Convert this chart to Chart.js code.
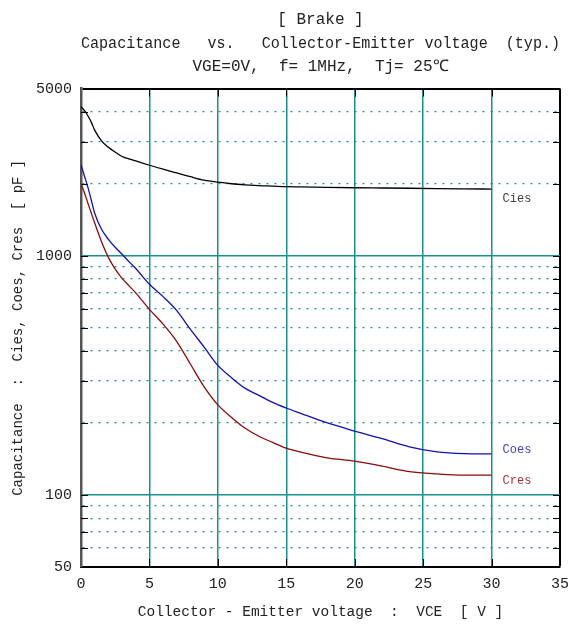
<!DOCTYPE html>
<html>
<head>
<meta charset="utf-8">
<script src="https://cdn.jsdelivr.net/npm/chart.js@4.4.1/dist/chart.umd.min.js"></script>
<style>
  html, body { margin: 0; padding: 0; background: #fff; }
</style>
</head>
<body>
<canvas id="chart" width="571" height="624"></canvas>
<script>
// data
const vce  = [0, 0.25, 0.5, 0.75, 1, 1.5, 2, 2.5, 3, 3.5, 4, 5, 6, 7, 8, 9, 10, 11, 12, 13, 14, 15, 16, 18, 20, 22, 24, 26, 28, 30];
const cies = [4200, 4050, 3850, 3620, 3350, 3020, 2840, 2710, 2600, 2540, 2490, 2390, 2300, 2220, 2140, 2070, 2030, 2000, 1980, 1965, 1955, 1945, 1940, 1932, 1925, 1920, 1915, 1910, 1905, 1900];
const coes = [2400, 2155, 1935, 1710, 1505, 1290, 1172, 1085, 1015, 945, 885, 760, 675, 590, 492, 415, 348, 309, 279, 261, 244, 231, 220, 200, 185, 172, 159, 151.5, 149, 148.6];
const cres = [2000, 1835, 1662, 1510, 1370, 1145, 985, 880, 805, 750, 700, 597, 518, 438, 352, 283, 238, 211, 190, 176, 166, 157, 151.5, 143, 138.5, 132, 125.3, 122.5, 121, 121];

const seriesNames  = ['Cies', 'Coes', 'Cres'];
const seriesColors = ['#000000', '#1010b4', '#8c0a0a'];
const labelColors  = ['#404040', '#4040c8', '#a03434'];

const xTicks  = [0, 5, 10, 15, 20, 25, 30, 35];
const yTicks  = [50, 60, 70, 80, 90, 100, 200, 300, 400, 500, 600, 700, 800, 900, 1000, 2000, 3000, 4000, 5000];
const yLabels = [50, 100, 1000, 5000];
const yMajor  = [100, 1000];

const titleLines = ['[ Brake ]', 'Capacitance   vs.   Collector-Emitter voltage  (typ.)', 'VGE=0V,  f= 1MHz,  Tj= 25\u2103'];
const xTitle = 'Collector - Emitter voltage  :  VCE  [ V ]';
const yTitle = 'Capacitance  :  Cies, Coes, Cres  [ pF ]';

const TEAL = '#1a8f8f';
const MONO = "'Liberation Mono', 'DejaVu Sans Mono', monospace";

Chart.defaults.font.family = MONO;
Chart.defaults.color = '#222';

// short black ticks pointing into the plot, like the datasheet frame
const innerTicks = {
  id: 'innerTicks',
  beforeDatasetsDraw(chart) {
    const {ctx, chartArea: a, scales: {x, y}} = chart;
    ctx.save();
    ctx.strokeStyle = '#000';
    ctx.lineWidth = 1;
    ctx.beginPath();
    y.ticks.forEach(t => {
      if (t.value === 50 || t.value === 5000) return;
      const py = Math.round(y.getPixelForValue(t.value)) + 0.5;
      ctx.moveTo(a.left, py); ctx.lineTo(a.left + 7, py);
      ctx.moveTo(a.right - 7, py); ctx.lineTo(a.right, py);
    });
    x.ticks.forEach(t => {
      if (t.value === 0 || t.value === 35) return;
      const px = Math.round(x.getPixelForValue(t.value)) + 0.5;
      ctx.moveTo(px, a.top); ctx.lineTo(px, a.top + 8);
      ctx.moveTo(px, a.bottom - 8); ctx.lineTo(px, a.bottom);
    });
    ctx.stroke();
    ctx.restore();
  }
};

// curve names next to the last point of each curve
const endLabels = {
  id: 'endLabels',
  afterDatasetsDraw(chart, args, opts) {
    const ctx = chart.ctx;
    ctx.save();
    ctx.font = '12px ' + MONO;
    ctx.textAlign = 'left';
    ctx.textBaseline = 'middle';
    chart.data.datasets.forEach((ds, i) => {
      const pts = chart.getDatasetMeta(i).data;
      const last = pts[pts.length - 1];
      ctx.fillStyle = labelColors[i];
      ctx.fillText(ds.label, last.x + opts.dx, last.y + opts.dy[i]);
    });
    ctx.restore();
  }
};

const toPoints = arr => vce.map((v, i) => ({x: v, y: arr[i]}));

new Chart(document.getElementById('chart'), {
  type: 'line',
  data: {
    datasets: [cies, coes, cres].map((arr, i) => ({
      label: seriesNames[i],
      data: toPoints(arr),
      borderColor: seriesColors[i],
      borderWidth: 1.3,
      pointRadius: 0,
      cubicInterpolationMode: 'monotone',
      fill: false
    }))
  },
  options: {
    responsive: false,
    animation: false,
    layout: { padding: { left: 0, right: 11, top: 0, bottom: 0 } },
    plugins: {
      legend: { display: false },
      tooltip: { enabled: false },
      title: {
        display: true,
        fullSize: false,
        text: titleLines,
        color: '#222',
        font: { size: 16, weight: 'normal', lineHeight: 1.47 },
        padding: { top: 8, bottom: 10 }
      },
      endLabels: { dx: 11, dy: [10, -4, 6] }
    },
    scales: {
      x: {
        type: 'linear',
        min: 0,
        max: 35,
        afterBuildTicks: s => { s.ticks = xTicks.map(v => ({value: v})); },
        afterFit: s => { s.height = 57; s.paddingLeft = 0; s.paddingRight = 0; },
        ticks: { padding: 8, font: { size: 15 }, color: '#222', maxRotation: 0 },
        grid: {
          drawTicks: false,
          color: c => (c.tick && c.tick.value === 35) ? '#000' : TEAL,
          lineWidth: c => (c.tick && c.tick.value === 35) ? 2 : 1.5
        },
        border: { color: '#000', width: 2 },
        title: { display: true, text: xTitle, font: { size: 14.5 }, color: '#222', padding: { top: 0, bottom: 3 } }
      },
      y: {
        type: 'logarithmic',
        min: 50,
        max: 5000,
        afterBuildTicks: s => { s.ticks = yTicks.map(v => ({value: v})); },
        afterFit: s => { s.width = 81; },
        ticks: {
          padding: 9,
          font: { size: 15 },
          color: '#222',
          autoSkip: false,
          callback: v => yLabels.includes(v) ? String(v) : ''
        },
        grid: {
          drawTicks: false,
          color: c => {
            const v = c.tick && c.tick.value;
            return v === 5000 ? '#000' : TEAL;
          },
          lineWidth: c => {
            const v = c.tick && c.tick.value;
            if (v === 5000) return 2;
            return yMajor.includes(v) ? 1.5 : 1.2;
          }
        },
        border: {
          color: '#555',
          width: 2.5,
          dash: c => {
            const v = c.tick && c.tick.value;
            if (v === undefined || v === 5000 || v === 50 || yMajor.includes(v)) return [];
            return [2, 6];
          }
        },
        title: { display: true, text: yTitle, font: { size: 14 }, color: '#222', padding: { top: 10, bottom: 0 } }
      }
    }
  },
  plugins: [innerTicks, endLabels]
});
</script>
</body>
</html>
